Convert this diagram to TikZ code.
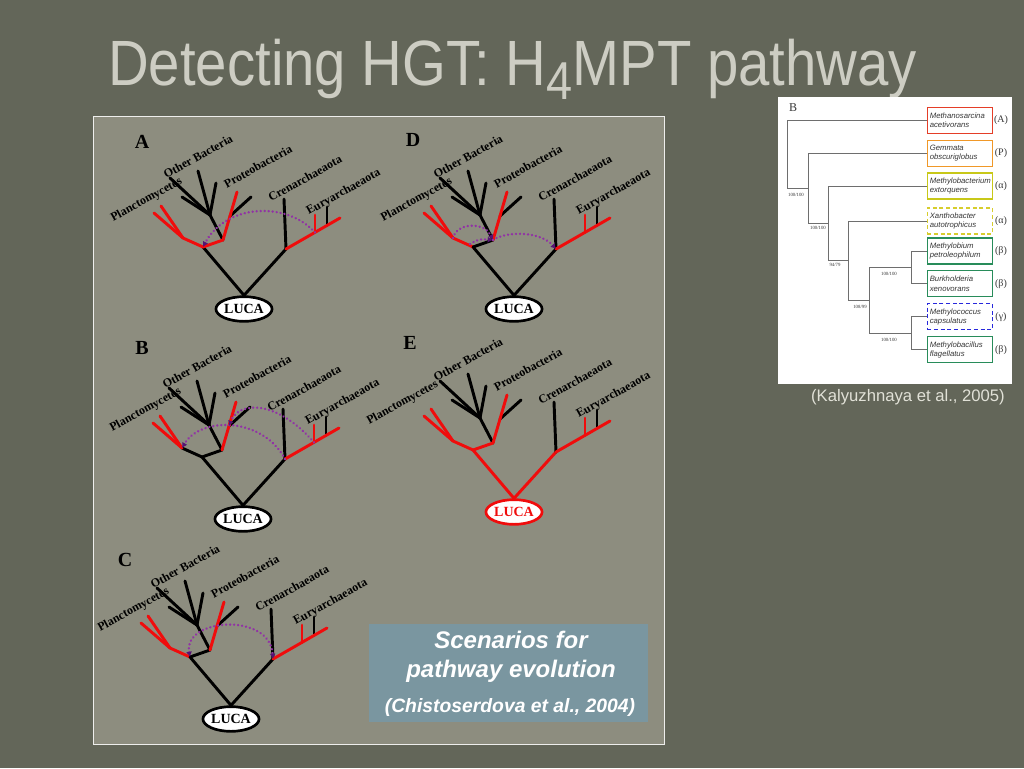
\documentclass[tikz,border=0pt]{standalone}
\usepackage{fontspec}
\usepackage{graphicx}
\setmainfont{Liberation Serif}
\newfontfamily\arialf{Liberation Sans}
\usetikzlibrary{arrows.meta,shapes.geometric}
\definecolor{bgc}{RGB}{99,102,89}
\definecolor{panelc}{RGB}{141,141,127}
\definecolor{titlec}{RGB}{205,205,195}
\definecolor{hgtc}{RGB}{145,50,165}
\definecolor{hgtdark}{RGB}{85,20,115}
\definecolor{treered}{RGB}{240,12,12}
\definecolor{capboxc}{RGB}{122,150,160}
\definecolor{kcapc}{RGB}{225,225,215}
\definecolor{fred}{RGB}{228,62,40}
\definecolor{forange}{RGB}{240,152,40}
\definecolor{fyel}{RGB}{200,200,25}
\definecolor{fyel2}{RGB}{215,205,45}
\definecolor{fgreen}{RGB}{40,140,90}
\definecolor{fblue}{RGB}{40,40,220}
\definecolor{flinec}{RGB}{110,110,110}
\definecolor{ftextc}{RGB}{55,55,55}
\tikzset{
 br/.style={line width=2.2pt, line cap=round, line join=round},
 lbl/.style={font=\bfseries\fontsize{9}{9}\selectfont, rotate=29, inner sep=0, anchor=base},
 luca/.style={ellipse, draw, line width=2pt, fill=white, minimum width=35pt, minimum height=18.5pt, inner sep=0, font=\bfseries\fontsize{10.5}{10.5}\selectfont},
 hgt/.style={hgtc, line width=2pt, line cap=round, dash pattern=on 0.01pt off 3pt},
 hgttip/.style={-{Latex[length=4pt,width=4.5pt,color=hgtdark]}},
 hgttips/.style={{Latex[length=4pt,width=4.5pt,color=hgtdark]}-{Latex[length=4pt,width=4.5pt,color=hgtdark]}},
 letter/.style={font=\bfseries\fontsize{15}{15}\selectfont, inner sep=0},
 fbox/.style={line width=1.1pt, minimum width=48.75pt, minimum height=19.5pt, text width=45pt, inner xsep=1.9pt, inner ysep=0, align=left, font=\arialf\itshape\fontsize{5.8}{7}\selectfont, text=ftextc},
 fgreek/.style={font=\fontsize{7.5}{7.5}\selectfont, text=ftextc, inner sep=0},
 fboot/.style={font=\fontsize{3.6}{3.6}\selectfont, text=ftextc, inner sep=0},
 fline/.style={flinec, line width=0.6pt},
 capline/.style={text=white, inner sep=0, anchor=base},
}
\newcommand\phylotree[8]{%
\begin{scope}[shift={(#2,#3)}]
\node[luca,draw=#7,text=#7] (#1-luca) at (244,309) {LUCA};
\coordinate (#1-Bn) at (203,247);
\coordinate (#1-An) at (286,249);
\coordinate (#1-P) at (183,238);
\coordinate (#1-P1) at (154,213);
\coordinate (#1-P2) at (161,206);
\coordinate (#1-Q) at (223,240);
\coordinate (#1-O) at (210,215);
\coordinate (#1-T) at (237,192);
\coordinate (#1-S0) at (230,216);
\coordinate (#1-S1) at (251,197);
\coordinate (#1-O1) at (170,178);
\coordinate (#1-O2) at (182,197);
\coordinate (#1-O3) at (198,171);
\coordinate (#1-O4) at (216,183);
\coordinate (#1-C) at (284,199);
\coordinate (#1-E) at (340,218);
\coordinate (#1-E1) at (315,232.4);
\coordinate (#1-E1t) at (315,215);
\coordinate (#1-E2) at (327,225.5);
\coordinate (#1-E2t) at (327,207);
\draw[br,#4] (#1-luca.north) -- (#1-Bn);
\draw[br,#4] (#1-luca.north) -- (#1-An);
\draw[br] (#1-Q) -- (#1-O);
\draw[br] (#1-O) -- (#1-O1);
\draw[br] (#1-O) -- (#1-O2);
\draw[br] (#1-O) -- (#1-O3);
\draw[br] (#1-O) -- (#1-O4);
\draw[br] (#1-S0) -- (#1-S1);
\draw[br] (#1-An) -- (#1-C);
\draw[br] (#1-E2) -- (#1-E2t);
\draw[br,#5] (#1-Bn) -- (#1-P);
\draw[br,#6] (#1-Bn) -- (#1-Q);
\draw[br,treered] (#1-P) -- (#1-P1);
\draw[br,treered] (#1-P) -- (#1-P2);
\draw[br,treered] (#1-Q) -- (#1-T);
\draw[br,treered] (#1-An) -- (#1-E);
\draw[br,treered] (#1-E1) -- (#1-E1t);
\node[lbl] (#1-l1) at (#8,202.5) {Planctomycetes};
\node[lbl] (#1-l2) at (200,160) {Other Bacteria};
\node[lbl] (#1-l3) at (260,170) {Proteobacteria};
\node[lbl] (#1-l4) at (307,182) {Crenarchaeaota};
\node[lbl] (#1-l5) at (345,195) {Euryarchaeaota};
\end{scope}}
\begin{document}
\begin{tikzpicture}[x=0.75pt,y=-0.75pt]
\fill[bgc] (0,0) rectangle (1024,768);
\useasboundingbox (0,0) rectangle (1024,768);
% title
\node[anchor=base west, inner sep=0, text=titlec] (title) at (108,85)
 {\scalebox{0.88}[1.0]{\arialf\fontsize{48}{48}\selectfont Detecting HGT: H\raisebox{-11pt}{\fontsize{40}{40}\selectfont 4}MPT pathway}};
% panel
\node[fill=panelc, draw=white!85!panelc, line width=1pt, inner sep=0, minimum width=428.25pt, minimum height=471pt, anchor=north west] (panel) at (93,116) {};
% trees
\phylotree{A}{0}{0}{black}{treered}{treered}{black}{148}
\phylotree{D}{270}{0}{black}{treered}{black}{black}{148}
\phylotree{B}{-1}{210}{black}{black}{black}{black}{148}
\phylotree{C}{-13}{410}{black}{treered}{black}{black}{148}
\phylotree{E}{270}{203}{treered}{treered}{treered}{treered}{134}
% HGT arcs
\draw[hgt,hgttip] (A-E1) .. controls (285,200) and (225,205) .. (A-Bn);
\draw[hgt,hgttip] (D-P) .. controls (457,222) and (485,222) .. (D-Q);
\coordinate (D-h) at (470,244);
\draw[hgt,hgttip] (D-h) .. controls (479,239) .. (D-Q);
\draw[hgt,hgttip] (D-Q) .. controls (506,231) and (540,231) .. (D-An);
\draw[hgt,hgttip] (B-An) .. controls (262,416) and (200,417) .. (B-P);
\draw[hgt,hgttip] (B-E1) .. controls (275,398) and (238,402) .. (B-S0);
\draw[hgt,hgttips] (C-Bn) .. controls (183,618) and (270,612) .. (C-An);
% letters
\node[letter] (lA) at (142,142) {A};
\node[letter] (lD) at (413,140) {D};
\node[letter] (lB) at (142,348) {B};
\node[letter] (lE) at (410,343) {E};
\node[letter] (lC) at (125,560) {C};
% caption box
\node[fill=capboxc, inner sep=0, minimum width=209.25pt, minimum height=73.5pt, anchor=north west] (capbox) at (369,624) {};
\node[capline, font=\arialf\bfseries\itshape\fontsize{18}{18}\selectfont] (cap1) at (511,648) {Scenarios for};
\node[capline, font=\arialf\bfseries\itshape\fontsize{18}{18}\selectfont] (cap2) at (511,677) {pathway evolution};
\node[capline, font=\arialf\bfseries\itshape\fontsize{14.5}{14.5}\selectfont] (cap3) at (510,712) {(Chistoserdova et al., 2004)};
% right figure
\node[fill=white, inner sep=0, minimum width=175.5pt, minimum height=215.25pt, anchor=north west] (kfig) at (778,97) {};
\node[font=\fontsize{9}{9}\selectfont, text=ftextc, inner sep=0] (kB) at (793,108) {B};
\node[fbox, draw=fred] (b1) at (959.8,120.5) {Methanosarcina\\acetivorans};
\node[fbox, draw=forange] (b2) at (959.8,153.3) {Gemmata\\obscuriglobus};
\node[fbox, draw=fyel] (b3) at (959.8,186) {Methylobacterium\\extorquens};
\node[fbox, draw=fyel2, dash pattern=on 3pt off 2pt] (b4) at (959.8,221) {Xanthobacter\\autotrophicus};
\node[fbox, draw=fgreen] (b5) at (959.8,251.2) {Methylobium\\petroleophilum};
\node[fbox, draw=fgreen] (b6) at (959.8,283.7) {Burkholderia\\xenovorans};
\node[fbox, draw=fblue, dash pattern=on 3pt off 2pt] (b7) at (959.8,316.7) {Methylococcus\\capsulatus};
\node[fbox, draw=fgreen] (b8) at (959.8,349.7) {Methylobacillus\\flagellatus};
\node[fgreek] (g1) at (1001,120.5) {(A)};
\node[fgreek] (g2) at (1001,153.3) {(P)};
\node[fgreek] (g3) at (1001,186) {(α)};
\node[fgreek] (g4) at (1001,221) {(α)};
\node[fgreek] (g5) at (1001,251.2) {(β)};
\node[fgreek] (g6) at (1001,283.7) {(β)};
\node[fgreek] (g7) at (1001,316.7) {(γ)};
\node[fgreek] (g8) at (1001,349.7) {(β)};
\coordinate (n1) at (787.3,154.4);
\coordinate (n2) at (808.7,188.3);
\coordinate (n3) at (828.7,223.3);
\coordinate (n4) at (848.7,260.7);
\coordinate (n5) at (869,300.3);
\coordinate (n6) at (911.3,267.5);
\coordinate (n7) at (911.3,333.2);
\draw[fline] (b1.west) -| (n1) |- (n2);
\draw[fline] (b2.west) -| (n2) |- (n3);
\draw[fline] (b3.west) -| (n3) |- (n4);
\draw[fline] (b4.west) -| (n4) |- (n5);
\draw[fline] (n6) -| (n5) |- (n7);
\draw[fline] (b5.west) -| (n6) |- (b6.west);
\draw[fline] (b7.west) -| (n7) |- (b8.west);
\node[fboot] (bs1) at (796,195) {100/100};
\node[fboot] (bs2) at (818,228) {100/100};
\node[fboot] (bs3) at (835,265) {94/79};
\node[fboot] (bs4) at (889,274) {100/100};
\node[fboot] (bs5) at (860,307) {108/99};
\node[fboot] (bs6) at (889,340) {100/100};
\node[font=\arialf\fontsize{12.5}{12.5}\selectfont, text=kcapc, inner sep=0] (kcap) at (908,397) {(Kalyuzhnaya et al., 2005)};
\end{tikzpicture}
\end{document}
